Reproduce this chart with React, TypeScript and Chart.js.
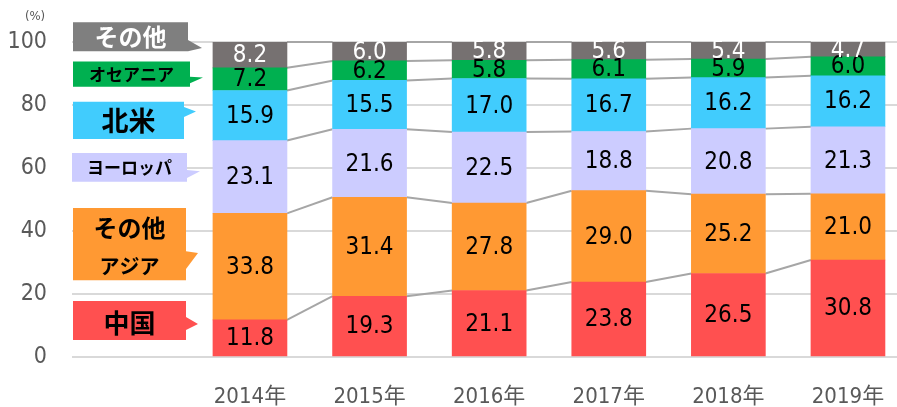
import { useEffect, useRef } from 'react';
import { Chart, registerables } from 'chart.js';

Chart.register(...registerables);

const years = ['2014年', '2015年', '2016年', '2017年', '2018年', '2019年'];
const china = [11.8, 19.3, 21.1, 23.8, 26.5, 30.8];
const otherAsia = [33.8, 31.4, 27.8, 29.0, 25.2, 21.0];
const europe = [23.1, 21.6, 22.5, 18.8, 20.8, 21.3];
const northAmerica = [15.9, 15.5, 17.0, 16.7, 16.2, 16.2];
const oceania = [7.2, 6.2, 5.8, 6.1, 5.9, 6.0];
const others = [8.2, 6.0, 5.8, 5.6, 5.4, 4.7];
const yTicks = [0, 20, 40, 60, 80, 100];
const seriesNames = ['中国', 'その他アジア', 'ヨーロッパ', '北米', 'オセアニア', 'その他'];
const seriesValues = [china, otherAsia, europe, northAmerica, oceania, others];

const barColors = ['#FF5050', '#FF9933', '#CCCCFF', '#41CCFD', '#00B050', '#767171'];
const labelColors = ['#000', '#000', '#000', '#000', '#000', '#fff'];

const NUM_FONT = "'DejaVu Sans Condensed', 'DejaVu Sans', 'Noto Sans CJK JP', sans-serif";
const JP_FONT = "'Noto Sans CJK JP', sans-serif";

// Callout boxes on the left (y in axis units, x in px from plot left)
type Callout = {
  fill: string; color: string; top: number; bottom: number; x0: number; x1: number;
  tailTop: number; tip: number; tailBottom: number; tipX: number;
  lines: { text: string; size: number; y: number }[];
};
const callouts: Callout[] = [
  { fill: '#7F7F7F', color: '#fff', top: 106.3, bottom: 97.1, x0: 1, x1: 116, tailTop: 100.6, tip: 98.1, tailBottom: 97.1, tipX: 130,
    lines: [{ text: 'その他', size: 24, y: 101.6 }] },
  { fill: '#00B050', color: '#000', top: 93.8, bottom: 85.8, x0: 1, x1: 118, tailTop: 89.0, tip: 88.7, tailBottom: 86.9, tipX: 131,
    lines: [{ text: 'オセアニア', size: 17, y: 89.6 }] },
  { fill: '#41CCFD', color: '#000', top: 81.0, bottom: 69.2, x0: 1, x1: 112, tailTop: 79.4, tip: 77.9, tailBottom: 76.2, tipX: 124,
    lines: [{ text: '北米', size: 27, y: 75.0 }] },
  { fill: '#CCCCFF', color: '#000', top: 64.8, bottom: 55.6, x0: 0, x1: 115, tailTop: 59.4, tip: 59.0, tailBottom: 56.8, tipX: 128,
    lines: [{ text: 'ヨーロッパ', size: 17, y: 60.0 }] },
  { fill: '#FF9933', color: '#000', top: 47.3, bottom: 24.4, x0: 1, x1: 114, tailTop: 33.6, tip: 33.0, tailBottom: 27.9, tipX: 126,
    lines: [{ text: 'その他', size: 24, y: 41.0 }, { text: 'アジア', size: 20, y: 28.9 }] },
  { fill: '#FF5050', color: '#000', top: 17.8, bottom: 5.4, x0: 1, x1: 114, tailTop: 12.7, tip: 10.5, tailBottom: 8.6, tipX: 126,
    lines: [{ text: '中国', size: 26, y: 10.8 }] },
];

const connectorPlugin = {
  id: 'connectors',
  beforeDatasetsDraw(chart: any) {
    const ctx = chart.ctx;
    ctx.save();
    ctx.strokeStyle = '#A6A6A6';
    ctx.lineWidth = 2;
    chart.data.datasets.forEach((_: any, di: number) => {
      const meta = chart.getDatasetMeta(di);
      for (let j = 0; j < meta.data.length - 1; j++) {
        const a = meta.data[j].getProps(['x', 'y', 'width'], true);
        const b = meta.data[j + 1].getProps(['x', 'y', 'width'], true);
        ctx.beginPath();
        ctx.moveTo(a.x + a.width / 2, a.y);
        ctx.lineTo(b.x - b.width / 2, b.y);
        ctx.stroke();
      }
    });
    ctx.restore();
  },
};

const labelPlugin = {
  id: 'barLabels',
  afterDatasetsDraw(chart: any) {
    const ctx = chart.ctx;
    ctx.save();
    ctx.font = `24px ${NUM_FONT}`;
    ctx.textAlign = 'center';
    ctx.textBaseline = 'middle';
    chart.data.datasets.forEach((ds: any, di: number) => {
      const meta = chart.getDatasetMeta(di);
      meta.data.forEach((el: any, j: number) => {
        const p = el.getProps(['x', 'y', 'base'], true);
        ctx.fillStyle = labelColors[di];
        ctx.fillText(seriesValues[di][j].toFixed(1), p.x, (p.y + p.base) / 2 + 1);
      });
    });
    ctx.restore();
  },
};

const calloutPlugin = {
  id: 'callouts',
  afterDraw(chart: any) {
    const ctx = chart.ctx;
    const ys = chart.scales.y;
    const left = chart.chartArea.left;
    ctx.save();
    callouts.forEach((c) => {
      const t = ys.getPixelForValue(c.top);
      const b = ys.getPixelForValue(c.bottom);
      const x0 = left + c.x0;
      const x1 = left + c.x1;
      ctx.fillStyle = c.fill;
      ctx.beginPath();
      ctx.moveTo(x0, t);
      ctx.lineTo(x1, t);
      ctx.lineTo(x1, ys.getPixelForValue(c.tailTop));
      ctx.lineTo(left + c.tipX, ys.getPixelForValue(c.tip));
      ctx.lineTo(x1, ys.getPixelForValue(c.tailBottom));
      ctx.lineTo(x1, b);
      ctx.lineTo(x0, b);
      ctx.closePath();
      ctx.fill();
      ctx.fillStyle = c.color;
      ctx.textAlign = 'center';
      ctx.textBaseline = 'middle';
      c.lines.forEach((l) => {
        ctx.font = `bold ${l.size}px ${JP_FONT}`;
        ctx.fillText(l.text, (x0 + x1) / 2, ys.getPixelForValue(l.y));
      });
    });
    // unit label
    ctx.fillStyle = '#595959';
    ctx.font = `13px ${NUM_FONT}`;
    ctx.textAlign = 'center';
    ctx.textBaseline = 'middle';
    ctx.fillText('(%)', left - 37, chart.chartArea.top - 25);
    ctx.restore();
  },
};

export default function App() {
  const ref = useRef<HTMLCanvasElement | null>(null);
  useEffect(() => {
    if (!ref.current) return;
    const chart = new Chart(ref.current, {
      type: 'bar',
      data: {
        datasets: seriesValues.map((vals, di) => ({
          label: seriesNames[di],
          data: vals.map((v, i) => ({ x: i, y: v })),
          backgroundColor: barColors[di],
          borderWidth: 0,
          barThickness: 74,
        })),
      },
      options: {
        animation: false,
        responsive: false,
        events: [],
        layout: { padding: { top: 42, left: 0, right: 0, bottom: 0 } },
        plugins: { legend: { display: false }, tooltip: { enabled: false } },
        scales: {
          x: {
            type: 'linear',
            stacked: true,
            offset: false,
            min: -1.488,
            max: 5.41,
            grid: { display: false },
            border: { display: false },
            afterBuildTicks: (axis: any) => {
              axis.ticks = years.map((_, i) => ({ value: i }));
            },
            afterFit: (axis: any) => {
              axis.height = 50;
              axis.paddingLeft = 0;
              axis.paddingRight = 0;
            },
            ticks: {
              autoSkip: false,
              maxRotation: 0,
              padding: 19,
              color: '#595959',
              font: { family: NUM_FONT, size: 22 },
              callback: (v: any) => years[Math.round(Number(v))] ?? '',
            },
          },
          y: {
            stacked: true,
            min: 0,
            max: 100,
            afterBuildTicks: (axis: any) => {
              axis.ticks = yTicks.map((v) => ({ value: v }));
            },
            afterFit: (axis: any) => {
              axis.width = 72;
            },
            grid: { color: '#D9D9D9', lineWidth: 2, drawTicks: false },
            border: { display: false },
            ticks: {
              padding: 25,
              color: '#595959',
              font: { family: NUM_FONT, size: 23 },
            },
          },
        },
      },
      plugins: [connectorPlugin, labelPlugin, calloutPlugin],
    });
    return () => chart.destroy();
  }, []);
  return (
    <div style={{ position: 'absolute', left: 0, top: 0, width: 897, height: 407 }}>
      <canvas ref={ref} width={897} height={407} style={{ display: 'block' }} />
    </div>
  );
}
